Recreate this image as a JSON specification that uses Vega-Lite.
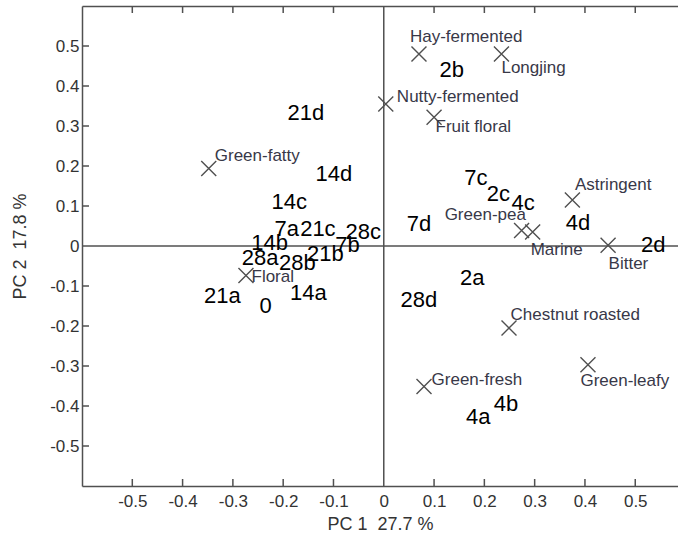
{
  "$schema": "https://vega.github.io/schema/vega-lite/v6.json",
  "width": 596,
  "height": 480,
  "autosize": "none",
  "padding": {"left": 82, "top": 6, "right": 0, "bottom": 49},
  "background": "white",
  "config": {
    "view": {"stroke": null},
    "font": "Liberation Sans",
    "axis": {
      "grid": false,
      "domainColor": "#505050",
      "domainWidth": 1.5,
      "labelFont": "Liberation Sans",
      "labelFontSize": 17,
      "labelColor": "#333333",
      "titleFont": "Liberation Sans",
      "titleFontSize": 18,
      "titleFontWeight": "normal",
      "titleColor": "#333333"
    }
  },
  "datasets": {
    "zerolines": [
      {"x1": 0, "x2": 0, "y1": -0.6, "y2": 0.6},
      {"x1": -0.6, "x2": 0.585, "y1": 0, "y2": 0}
    ],
    "ticks": [
      {"tx": -0.5, "ty": -0.59125, "dir": "v"},
      {"tx": -0.4, "ty": -0.59125, "dir": "v"},
      {"tx": -0.3, "ty": -0.59125, "dir": "v"},
      {"tx": -0.2, "ty": -0.59125, "dir": "v"},
      {"tx": -0.1, "ty": -0.59125, "dir": "v"},
      {"tx": 0.1, "ty": -0.59125, "dir": "v"},
      {"tx": 0.2, "ty": -0.59125, "dir": "v"},
      {"tx": 0.3, "ty": -0.59125, "dir": "v"},
      {"tx": 0.4, "ty": -0.59125, "dir": "v"},
      {"tx": 0.5, "ty": -0.59125, "dir": "v"},
      {"tx": -0.5, "ty": 0.59125, "dir": "v"},
      {"tx": -0.4, "ty": 0.59125, "dir": "v"},
      {"tx": -0.3, "ty": 0.59125, "dir": "v"},
      {"tx": -0.2, "ty": 0.59125, "dir": "v"},
      {"tx": -0.1, "ty": 0.59125, "dir": "v"},
      {"tx": 0.1, "ty": 0.59125, "dir": "v"},
      {"tx": 0.2, "ty": 0.59125, "dir": "v"},
      {"tx": 0.3, "ty": 0.59125, "dir": "v"},
      {"tx": 0.4, "ty": 0.59125, "dir": "v"},
      {"tx": 0.5, "ty": 0.59125, "dir": "v"},
      {"tx": -0.593, "ty": -0.5, "dir": "h"},
      {"tx": -0.593, "ty": -0.4, "dir": "h"},
      {"tx": -0.593, "ty": -0.3, "dir": "h"},
      {"tx": -0.593, "ty": -0.2, "dir": "h"},
      {"tx": -0.593, "ty": -0.1, "dir": "h"},
      {"tx": -0.593, "ty": 0.1, "dir": "h"},
      {"tx": -0.593, "ty": 0.2, "dir": "h"},
      {"tx": -0.593, "ty": 0.3, "dir": "h"},
      {"tx": -0.593, "ty": 0.4, "dir": "h"},
      {"tx": -0.593, "ty": 0.5, "dir": "h"}
    ],
    "attributes": [
      {"attribute": "Green-fatty", "pc1": -0.348, "pc2": 0.194, "lx": -0.336, "ly": 0.226},
      {"attribute": "Nutty-fermented", "pc1": 0.004, "pc2": 0.355, "lx": 0.026, "ly": 0.373},
      {"attribute": "Hay-fermented", "pc1": 0.070, "pc2": 0.480, "lx": 0.052, "ly": 0.522},
      {"attribute": "Longjing", "pc1": 0.234, "pc2": 0.480, "lx": 0.234, "ly": 0.446},
      {"attribute": "Fruit floral", "pc1": 0.100, "pc2": 0.322, "lx": 0.103, "ly": 0.298},
      {"attribute": "Astringent", "pc1": 0.375, "pc2": 0.115, "lx": 0.380, "ly": 0.152},
      {"attribute": "Green-pea", "pc1": 0.274, "pc2": 0.039, "lx": 0.121, "ly": 0.077},
      {"attribute": "Marine", "pc1": 0.296, "pc2": 0.035, "lx": 0.292, "ly": -0.011},
      {"attribute": "Bitter", "pc1": 0.446, "pc2": 0.002, "lx": 0.447, "ly": -0.044},
      {"attribute": "Floral", "pc1": -0.274, "pc2": -0.074, "lx": -0.263, "ly": -0.078},
      {"attribute": "Chestnut roasted", "pc1": 0.249, "pc2": -0.205, "lx": 0.252, "ly": -0.172},
      {"attribute": "Green-leafy", "pc1": 0.406, "pc2": -0.297, "lx": 0.391, "ly": -0.338},
      {"attribute": "Green-fresh", "pc1": 0.080, "pc2": -0.351, "lx": 0.095, "ly": -0.334}
    ],
    "samples": [
      {"sample": "0", "pc1": -0.235, "pc2": -0.149},
      {"sample": "2a", "pc1": 0.176, "pc2": -0.079},
      {"sample": "2b", "pc1": 0.135, "pc2": 0.440},
      {"sample": "2c", "pc1": 0.228, "pc2": 0.130},
      {"sample": "2d", "pc1": 0.536, "pc2": 0.002},
      {"sample": "4a", "pc1": 0.188, "pc2": -0.427},
      {"sample": "4b", "pc1": 0.243, "pc2": -0.395},
      {"sample": "4c", "pc1": 0.277, "pc2": 0.108},
      {"sample": "4d", "pc1": 0.386, "pc2": 0.058},
      {"sample": "7a", "pc1": -0.193, "pc2": 0.042},
      {"sample": "7b", "pc1": -0.072, "pc2": 0.002},
      {"sample": "7c", "pc1": 0.183, "pc2": 0.171},
      {"sample": "7d", "pc1": 0.070, "pc2": 0.056},
      {"sample": "14a", "pc1": -0.150, "pc2": -0.117},
      {"sample": "14b", "pc1": -0.227, "pc2": 0.008},
      {"sample": "14c", "pc1": -0.188, "pc2": 0.110},
      {"sample": "14d", "pc1": -0.099, "pc2": 0.181},
      {"sample": "21a", "pc1": -0.321, "pc2": -0.124},
      {"sample": "21b", "pc1": -0.116, "pc2": -0.021},
      {"sample": "21c", "pc1": -0.131, "pc2": 0.042},
      {"sample": "21d", "pc1": -0.155, "pc2": 0.332},
      {"sample": "28a", "pc1": -0.246, "pc2": -0.031},
      {"sample": "28b", "pc1": -0.172, "pc2": -0.042},
      {"sample": "28c", "pc1": -0.041, "pc2": 0.035},
      {"sample": "28d", "pc1": 0.070, "pc2": -0.134}
    ]
  },
  "layer": [
    {
      "data": {"name": "zerolines"},
      "mark": {"type": "rule", "color": "#505050", "strokeWidth": 1.5},
      "encoding": {
        "x": {
          "field": "x1",
          "type": "quantitative",
          "scale": {"domain": [-0.6, 0.585], "nice": false, "zero": false},
          "axis": {
            "orient": "bottom",
            "values": [-0.5, -0.4, -0.3, -0.2, -0.1, 0, 0.1, 0.2, 0.3, 0.4, 0.5],
            "labelExpr": "'' + datum.value",
            "ticks": false,
            "labelPadding": 7,
            "title": "PC 1\u00a0 27.7 %",
            "titlePadding": 6
          }
        },
        "x2": {"field": "x2"},
        "y": {
          "field": "y1",
          "type": "quantitative",
          "scale": {"domain": [-0.6, 0.6], "nice": false, "zero": false},
          "axis": {
            "orient": "left",
            "values": [-0.5, -0.4, -0.3, -0.2, -0.1, 0, 0.1, 0.2, 0.3, 0.4, 0.5],
            "labelExpr": "'' + datum.value",
            "ticks": false,
            "labelPadding": 3,
            "title": "PC 2\u00a0 17.8 %",
            "titlePadding": 20
          }
        },
        "y2": {"field": "y2"}
      }
    },
    {
      "data": {"name": "ticks"},
      "mark": {"type": "point", "filled": false, "size": 49, "stroke": "#505050", "strokeWidth": 1.5, "opacity": 1},
      "encoding": {
        "x": {"field": "tx", "type": "quantitative", "axis": null},
        "y": {"field": "ty", "type": "quantitative", "axis": null},
        "shape": {
          "field": "dir",
          "type": "nominal",
          "scale": {"domain": ["v", "h"], "range": ["M0,-1L0,1", "M-1,0L1,0"]},
          "legend": null
        }
      }
    },
    {
      "data": {"name": "attributes"},
      "mark": {
        "type": "point",
        "shape": "M-1,-1L1,1M1,-1L-1,1",
        "filled": false,
        "size": 225,
        "stroke": "#505050",
        "strokeWidth": 1.4,
        "opacity": 1
      },
      "encoding": {
        "x": {
          "field": "pc1",
          "type": "quantitative",
          "axis": {
            "orient": "top",
            "ticks": false,
            "labels": false,
            "title": null
          }
        },
        "y": {"field": "pc2", "type": "quantitative", "axis": null}
      }
    },
    {
      "data": {"name": "attributes"},
      "mark": {
        "type": "text",
        "align": "left",
        "baseline": "middle",
        "font": "Liberation Sans",
        "fontSize": 17,
        "color": "#383848"
      },
      "encoding": {
        "x": {"field": "lx", "type": "quantitative", "axis": null},
        "y": {"field": "ly", "type": "quantitative", "axis": null},
        "text": {"field": "attribute"}
      }
    },
    {
      "data": {"name": "samples"},
      "mark": {
        "type": "text",
        "align": "center",
        "baseline": "middle",
        "font": "Liberation Sans",
        "fontSize": 22,
        "color": "#000000"
      },
      "encoding": {
        "x": {"field": "pc1", "type": "quantitative", "axis": null},
        "y": {"field": "pc2", "type": "quantitative", "axis": null},
        "text": {"field": "sample"}
      }
    }
  ],
  "resolve": {"scale": {"x": "shared", "y": "shared"}, "axis": {"x": "independent", "y": "independent"}}
}
